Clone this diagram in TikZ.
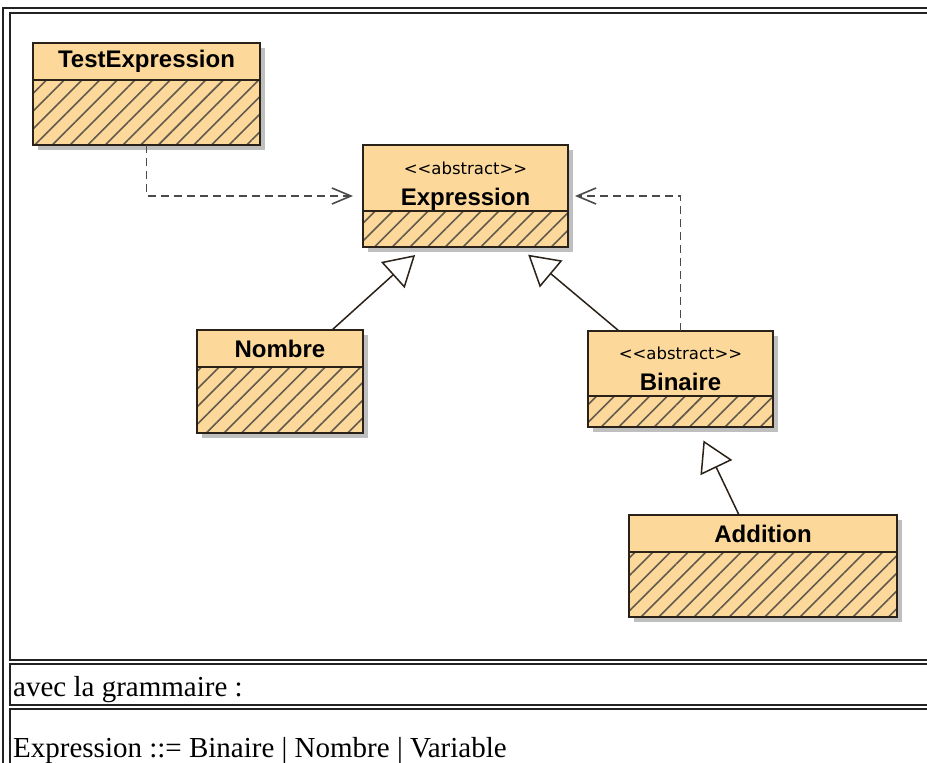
\documentclass[tikz,border=0pt]{standalone}
\usepackage{fontspec}
\setmainfont{Liberation Serif}
\newfontfamily\classfont{Liberation Sans}
\newfontfamily\stereofont{DejaVu Sans}[Ligatures=TeXOff]
\usetikzlibrary{arrows.meta,patterns.meta,shadows,calc}
\definecolor{umlfill}{HTML}{FCD99B}
\definecolor{umlline}{HTML}{2A2218}
\definecolor{hatch}{HTML}{625A4C}
\definecolor{dep}{HTML}{4A4A4A}
\definecolor{frame}{HTML}{222222}
\newcommand{\stereo}[1]{{\stereofont\mdseries\fontsize{16.5}{19}\selectfont #1}}

\begin{document}
\begin{tikzpicture}[x=1pt,y=-1pt,
  umlbox/.style={draw=umlline, line width=1.5pt, anchor=north west, inner sep=0pt, outer sep=0pt,
    drop shadow={shadow xshift=5pt, shadow yshift=-5pt, fill=black!25, opacity=1}},
  classtitle/.style={umlbox, fill=umlfill, align=center, font=\classfont\bfseries\fontsize{24}{28}\selectfont},
  classbody/.style={umlbox, preaction={fill=umlfill}, pattern={Lines[angle=45,distance=12.5pt,line width=1.6pt]}, pattern color=hatch},
  realize/.style={draw=umlline, line width=1.5pt, -{Triangle[open,length=30pt,width=35pt,line width=1.5pt]}, shorten >=12pt},
  depend/.style={draw=dep, line width=1.8pt, dash pattern=on 8pt off 5pt, -{Straight Barb[length=19pt,width=16pt,line width=1.6pt]}},
  cellline/.style={draw=frame, line width=1.6pt},
  celltext/.style={anchor=base west, inner sep=0pt, font=\fontsize{29}{34}\selectfont}]
	\useasboundingbox (0,0) rectangle (927,763);
	\fill[white] (0,0) rectangle (927,763);
	\draw[cellline] (935,8) -- (3,8) -- (3,770);
	\draw[cellline] (935,13) -- (10,13) -- (10,660) -- (935,660);
	\draw[cellline] (935,664) -- (10,664) -- (10,705) -- (935,705);
	\draw[cellline] (935,709) -- (10,709) -- (10,770);
	\node[classtitle, minimum width=227pt, minimum height=37pt] (testt) at (33,43) {TestExpression};
	\node[classbody, minimum width=227pt, minimum height=65pt] (testb) at (testt.south west) {};
	\node[classtitle, minimum width=205pt, minimum height=66pt] (exprt) at (363,145) {\rule{0pt}{29.5pt}\stereo{<<abstract>>}\\[3pt]Expression};
	\node[classbody, minimum width=205pt, minimum height=36pt] (exprb) at (exprt.south west) {};
	\node[classtitle, minimum width=166pt, minimum height=37pt] (nomt) at (197,330) {Nombre};
	\node[classbody, minimum width=166pt, minimum height=66pt] (nomb) at (nomt.south west) {};
	\node[classtitle, minimum width=185pt, minimum height=65pt] (bint) at (588,331) {\rule{0pt}{22.5pt}\stereo{<<abstract>>}\\[3pt]Binaire};
	\node[classbody, minimum width=185pt, minimum height=31pt] (binb) at (bint.south west) {};
	\node[classtitle, minimum width=268pt, minimum height=37pt] (addt) at (629,515) {Addition};
	\node[classbody, minimum width=268pt, minimum height=65pt] (addb) at (addt.south west) {};
	\draw[depend, shorten >=10pt] (testb.south) |- ($(exprt.north west)!.5!(exprb.south west)$);
	\draw[depend, shorten >=7pt] (bint.north) |- ($(exprt.north east)!.5!(exprb.south east)$);
	\draw[realize] ([xshift=-31pt]nomt.north east) -- ([xshift=61pt]exprb.south west);
	\draw[realize] ([xshift=31pt]bint.north west) -- ([xshift=-49pt]exprb.south east);
	\draw[realize, shorten >=15pt] ([xshift=110pt]addt.north west) -- ([xshift=109pt]binb.south west);
	\node[celltext] (gram) at (13,696) {avec la grammaire :};
	\node[celltext] (rule) at (13,757) {Expression ::= Binaire | Nombre | Variable};
\end{tikzpicture}
\end{document}
